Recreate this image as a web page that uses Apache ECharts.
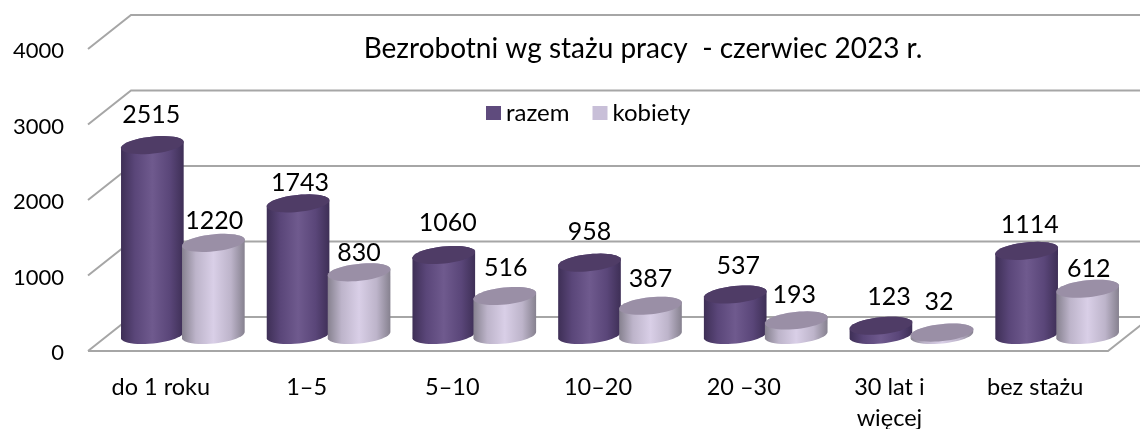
<!DOCTYPE html>
<html><head><meta charset="utf-8">
<style>html,body{margin:0;padding:0;background:#fff}#c{width:1140px;height:429px}</style>
<script src="https://cdn.jsdelivr.net/npm/echarts@6/dist/echarts.min.js"></script>
</head><body><div id="c"></div>
<script>
var categories = ['do 1 roku', '1–5', '5–10', '10–20', '20 –30', '30 lat i\nwięcej', 'bez stażu'];
var razem = [2515, 1743, 1060, 958, 537, 123, 1114];
var kobiety = [1220, 830, 516, 387, 193, 32, 612];
var yTicks = [0, 1000, 2000, 3000, 4000];
var titleText = 'Bezrobotni wg stażu pracy  - czerwiec 2023 r.';

var FONT = 'Lato, Carlito, sans-serif';
var WALL_DX = 43, WALL_DY = -34, BAR_DX = 22, BAR_DY = -16;
var RX = 31.5, RY = 8.5, TILT = -6 * Math.PI / 180, GAP = 30.5;

/* hand-placed data-label nudges of the original, relative to the default spot above each cylinder */
var labelNudge = {
  razem: [[-1, -1], [2, 9], [4, -3], [0, -2], [3, 0], [8, 0], [3, 3]],
  kobiety: [[1, 4], [0, 7], [1, -2], [0, -1], [-2, 1], [-3, -5], [1, 6]]
};

function ell(cx, cy, t) {
  var c = Math.cos(TILT), s = Math.sin(TILT), a = RX * Math.cos(t), b = RY * Math.sin(t);
  return [cx + a * c - b * s, cy + a * s + b * c];
}
function grad(stops) {
  return new echarts.graphic.LinearGradient(0, 0, 1, 0, stops.map(function (p) { return { offset: p[0], color: p[1] }; }));
}
var looks = {
  razem: { side: [[0, '#3e2f56'], [0.22, '#5a4679'], [0.5, '#6f5a8e'], [0.78, '#5a4679'], [1, '#3e2f56']], top: '#4f3c66' },
  kobiety: { side: [[0, '#86818f'], [0.22, '#bdb4ca'], [0.5, '#d9cfe7'], [0.78, '#bdb4ca'], [1, '#86818f']], top: '#9a8fa6' }
};
function cylinder(name, sign, lift) {
  return function (params, api) {
    var p = api.coord([api.value(0), api.value(1)]);
    var base = api.coord([api.value(0), 0]);
    var cx = p[0] + BAR_DX + sign * GAP, topY = p[1] + BAR_DY, botY = base[1] + BAR_DY;
    var nudge = labelNudge[name][params.dataIndex];
    var pts = [], i;
    for (i = 0; i <= 24; i++) pts.push(ell(cx, topY, Math.PI + i / 24 * Math.PI));
    for (i = 0; i <= 24; i++) pts.push(ell(cx, botY, i / 24 * Math.PI));
    var topPts = [];
    for (i = 0; i < 48; i++) topPts.push(ell(cx, topY, i / 48 * 2 * Math.PI));
    return {
      type: 'group',
      children: [
        { type: 'polygon', shape: { points: pts }, style: { fill: grad(looks[name].side) } },
        { type: 'polygon', shape: { points: topPts }, style: { fill: looks[name].top } },
        { type: 'text', x: cx + nudge[0], y: topY - lift + nudge[1], style: { text: String(api.value(1)), font: '25px ' + FONT, fill: '#000', align: 'center', verticalAlign: 'middle' } }
      ]
    };
  };
}
function walls(params, api) {
  var v = api.value(1), r = params.coordSys, y = api.coord([0, v])[1];
  var line = { stroke: '#a6a6a6', lineWidth: 2, fill: null };
  var pts = [[r.x, y], [r.x + WALL_DX, y + WALL_DY], [1160, y + WALL_DY]];
  var kids = [{ type: 'polyline', shape: { points: pts }, style: line }];
  if (v === 0) kids.push({ type: 'polyline', shape: { points: [[r.x, y], [r.x + r.width, y], [r.x + r.width + WALL_DX, y + WALL_DY]] }, style: line });
  return { type: 'group', children: kids };
}
var chart = echarts.init(document.getElementById('c'));
chart.setOption({
  animation: false,
  backgroundColor: '#fff',
  title: { text: titleText, left: 638, top: 30, textAlign: 'center', textStyle: { fontFamily: FONT, fontSize: 28, fontWeight: 'normal', color: '#000' } },
  legend: {
    left: 486, top: 101, padding: 0, itemWidth: 15, itemHeight: 14, itemGap: 23, icon: 'rect',
    textStyle: { fontFamily: FONT, fontSize: 24, color: '#000' },
    data: [
      { name: 'razem', itemStyle: { color: '#5f4b7d' } },
      { name: 'kobiety', itemStyle: { color: '#c8bfd8' } }
    ]
  },
  grid: { left: 88, right: 32, top: 49, bottom: 78, outerBoundsMode: 'none' },
  xAxis: {
    type: 'category', data: categories,
    axisLine: { show: false }, axisTick: { show: false },
    axisLabel: { fontFamily: FONT, fontSize: 23.5, color: '#000', margin: 21, lineHeight: 31, interval: 0 }
  },
  yAxis: {
    type: 'value', min: 0, max: 4000, interval: 1000,
    axisLine: { show: false }, axisTick: { show: false }, splitLine: { show: false },
    axisLabel: { fontFamily: FONT, fontSize: 22, color: '#000', margin: 24, verticalAlign: 'top', lineHeight: 4, formatter: function (v) { return String(v); } }
  },
  series: [
    { type: 'custom', name: 'walls', silent: true, z: 1, clip: false, renderItem: walls,
      data: yTicks.map(function (v) { return [0, v]; }) },
    { type: 'custom', name: 'razem', z: 2, clip: false, renderItem: cylinder('razem', -1, 29),
      itemStyle: { color: '#5f4b7d' }, encode: { x: 0, y: 1 },
      data: razem.map(function (v, i) { return [i, v]; }) },
    { type: 'custom', name: 'kobiety', z: 3, clip: false, renderItem: cylinder('kobiety', 1, 26),
      itemStyle: { color: '#c8bfd8' }, encode: { x: 0, y: 1 },
      data: kobiety.map(function (v, i) { return [i, v]; }) }
  ]
});
</script></body></html>
